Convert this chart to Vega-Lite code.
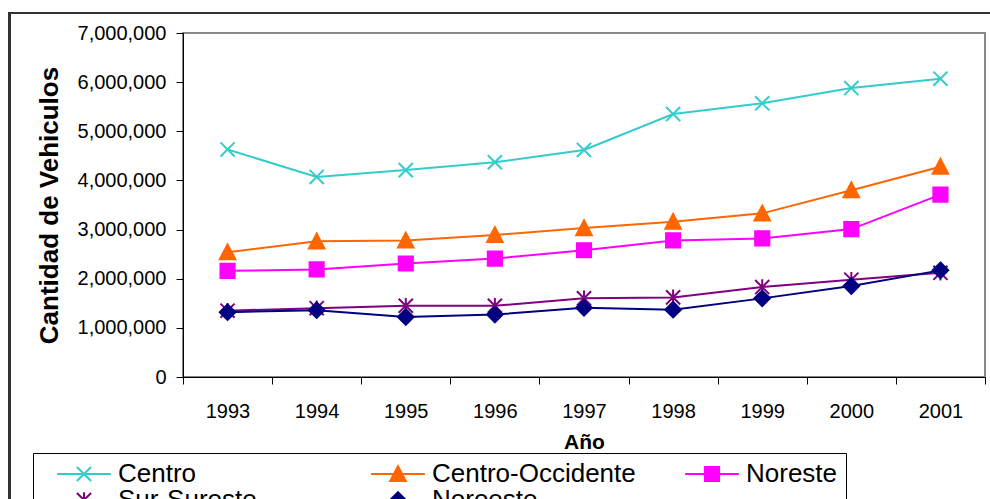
{
  "$schema": "https://vega.github.io/schema/vega-lite/v6.json",
  "width": 802,
  "height": 344,
  "autosize": {"type": "none"},
  "padding": {"left": 183, "top": 33, "right": 5, "bottom": 122},
  "background": "white",
  "config": {
    "font": "Liberation Sans",
    "view": {"stroke": "#888888", "strokeWidth": 2},
    "axis": {"grid": false, "domainColor": "#000000", "tickColor": "#000000", "labelColor": "#000000", "titleColor": "#000000", "labelFont": "Liberation Sans", "titleFont": "Liberation Sans"}
  },
  "data": {
    "values": [
      {"region": "Centro", "year": 1993, "value": 4630000},
      {"region": "Centro", "year": 1994, "value": 4070000},
      {"region": "Centro", "year": 1995, "value": 4210000},
      {"region": "Centro", "year": 1996, "value": 4370000},
      {"region": "Centro", "year": 1997, "value": 4620000},
      {"region": "Centro", "year": 1998, "value": 5350000},
      {"region": "Centro", "year": 1999, "value": 5570000},
      {"region": "Centro", "year": 2000, "value": 5880000},
      {"region": "Centro", "year": 2001, "value": 6070000},
      {"region": "Centro-Occidente", "year": 1993, "value": 2540000},
      {"region": "Centro-Occidente", "year": 1994, "value": 2760000},
      {"region": "Centro-Occidente", "year": 1995, "value": 2780000},
      {"region": "Centro-Occidente", "year": 1996, "value": 2890000},
      {"region": "Centro-Occidente", "year": 1997, "value": 3030000},
      {"region": "Centro-Occidente", "year": 1998, "value": 3160000},
      {"region": "Centro-Occidente", "year": 1999, "value": 3330000},
      {"region": "Centro-Occidente", "year": 2000, "value": 3800000},
      {"region": "Centro-Occidente", "year": 2001, "value": 4280000},
      {"region": "Noreste", "year": 1993, "value": 2160000},
      {"region": "Noreste", "year": 1994, "value": 2190000},
      {"region": "Noreste", "year": 1995, "value": 2310000},
      {"region": "Noreste", "year": 1996, "value": 2410000},
      {"region": "Noreste", "year": 1997, "value": 2580000},
      {"region": "Noreste", "year": 1998, "value": 2780000},
      {"region": "Noreste", "year": 1999, "value": 2820000},
      {"region": "Noreste", "year": 2000, "value": 3010000},
      {"region": "Noreste", "year": 2001, "value": 3710000},
      {"region": "Sur-Sureste", "year": 1993, "value": 1350000},
      {"region": "Sur-Sureste", "year": 1994, "value": 1400000},
      {"region": "Sur-Sureste", "year": 1995, "value": 1450000},
      {"region": "Sur-Sureste", "year": 1996, "value": 1450000},
      {"region": "Sur-Sureste", "year": 1997, "value": 1600000},
      {"region": "Sur-Sureste", "year": 1998, "value": 1620000},
      {"region": "Sur-Sureste", "year": 1999, "value": 1830000},
      {"region": "Sur-Sureste", "year": 2000, "value": 1980000},
      {"region": "Sur-Sureste", "year": 2001, "value": 2120000},
      {"region": "Noroeste", "year": 1993, "value": 1320000},
      {"region": "Noroeste", "year": 1994, "value": 1360000},
      {"region": "Noroeste", "year": 1995, "value": 1220000},
      {"region": "Noroeste", "year": 1996, "value": 1270000},
      {"region": "Noroeste", "year": 1997, "value": 1410000},
      {"region": "Noroeste", "year": 1998, "value": 1370000},
      {"region": "Noroeste", "year": 1999, "value": 1600000},
      {"region": "Noroeste", "year": 2000, "value": 1850000},
      {"region": "Noroeste", "year": 2001, "value": 2170000}
    ]
  },
  "encoding": {
    "x": {
      "field": "year", "type": "quantitative",
      "scale": {"domain": [1992.5, 2001.5], "nice": false, "zero": false},
      "axis": {
        "values": [1992.5, 1993.5, 1994.5, 1995.5, 1996.5, 1997.5, 1998.5, 1999.5, 2000.5, 2001.5],
        "labelExpr": "datum.value < 2001 ? format(datum.value + 0.5, 'd') : ''",
        "labelOffset": 44.5,
        "labelFlush": false,
        "labelOverlap": false,
        "labelBound": false,
        "labelFontSize": 20,
        "labelPadding": 17,
        "tickSize": 7,
        "title": "Año",
        "titleFontSize": 21,
        "titleFontWeight": "bold",
        "titlePadding": 10
      }
    },
    "y": {
      "field": "value", "type": "quantitative",
      "scale": {"domain": [0, 7000000], "nice": false},
      "axis": {
        "values": [0, 1000000, 2000000, 3000000, 4000000, 5000000, 6000000, 7000000],
        "format": ",d",
        "labelFontSize": 20,
        "labelPadding": 10,
        "tickSize": 7,
        "title": "Cantidad de Vehiculos",
        "titleFontSize": 26,
        "titleFontWeight": "bold",
        "titlePadding": 15
      }
    }
  },
  "layer": [
    {
      "mark": {"type": "rect", "filled": false, "stroke": "#333333", "strokeWidth": 2, "clip": false},
      "encoding": {
        "x": {"datum": 1990.55, "type": "quantitative"},
        "x2": {"datum": 2003.5},
        "y": {"datum": 7407000, "type": "quantitative"},
        "y2": {"datum": -6000000}
      }
    },
    {
      "mark": {"type": "line", "strokeWidth": 2},
      "encoding": {
        "color": {
          "field": "region", "type": "nominal",
          "scale": {"domain": ["Centro", "Centro-Occidente", "Noreste", "Sur-Sureste", "Noroeste"], "range": ["#33CCCC", "#FF6600", "#FF00FF", "#800080", "#000080"]},
          "legend": {
            "title": null,
            "orient": "none",
            "legendX": -150,
            "legendY": 420,
            "direction": "horizontal",
            "columns": 3,
            "gridAlign": "all",
            "columnPadding": 33,
            "rowPadding": 0,
            "padding": 8,
            "strokeColor": "#000000",
            "fillColor": "#ffffff",
            "labelFontSize": 26,
            "labelColor": "#000000",
            "labelLimit": 400,
            "labelOffset": 21,
            "symbolOffset": 30,
            "symbolSize": 200,
            "symbolStrokeWidth": 2,
            "encode": {
              "legend": {
                "update": {
                  "width": {"value": 945}
                }
              },
              "symbols": {
                "update": {
                  "shape": {"signal": "datum.value === 'Centro' ? 'M-3.8,0L3.8,0M-1,-1L1,1M-1,1L1,-1' : datum.value === 'Centro-Occidente' ? 'M-3.8,0L3.8,0M0,-1.1L1.1,1L-1.1,1Z' : datum.value === 'Noreste' ? 'M-3.8,0L3.8,0M-1,-1L1,-1L1,1L-1,1Z' : datum.value === 'Sur-Sureste' ? 'M-3.8,0L3.8,0M-1,-1L1,1M-1,1L1,-1M0,-1.1L0,1.1' : 'M-3.8,0L3.8,0M0,-1.1L1.1,0L0,1.1L-1.1,0Z'"},
                  "fill": {"scale": "color", "field": "value"},
                  "stroke": {"scale": "color", "field": "value"},
                  "strokeWidth": {"value": 2},
                  "opacity": {"value": 1}
                }
              }
            }
          }
        }
      }
    },
    {
      "mark": {"type": "point", "filled": true, "opacity": 1, "size": 200, "strokeWidth": 2},
      "encoding": {
        "color": {"field": "region", "type": "nominal"},
        "stroke": {
          "field": "region", "type": "nominal",
          "scale": {"domain": ["Centro", "Centro-Occidente", "Noreste", "Sur-Sureste", "Noroeste"], "range": ["#33CCCC", "#FF6600", "#FF00FF", "#800080", "#000080"]},
          "legend": null
        },
        "shape": {
          "condition": [
            {"test": "datum.region === 'Centro'", "value": "M-1,-1L1,1M-1,1L1,-1"},
            {"test": "datum.region === 'Centro-Occidente'", "value": "M0,-1.1L1.1,1L-1.1,1Z"},
            {"test": "datum.region === 'Noreste'", "value": "M-1,-1L1,-1L1,1L-1,1Z"},
            {"test": "datum.region === 'Sur-Sureste'", "value": "M-1,-1L1,1M-1,1L1,-1M0,-1.1L0,1.1"}
          ],
          "value": "M0,-1.1L1.1,0L0,1.1L-1.1,0Z"
        }
      }
    }
  ]
}
